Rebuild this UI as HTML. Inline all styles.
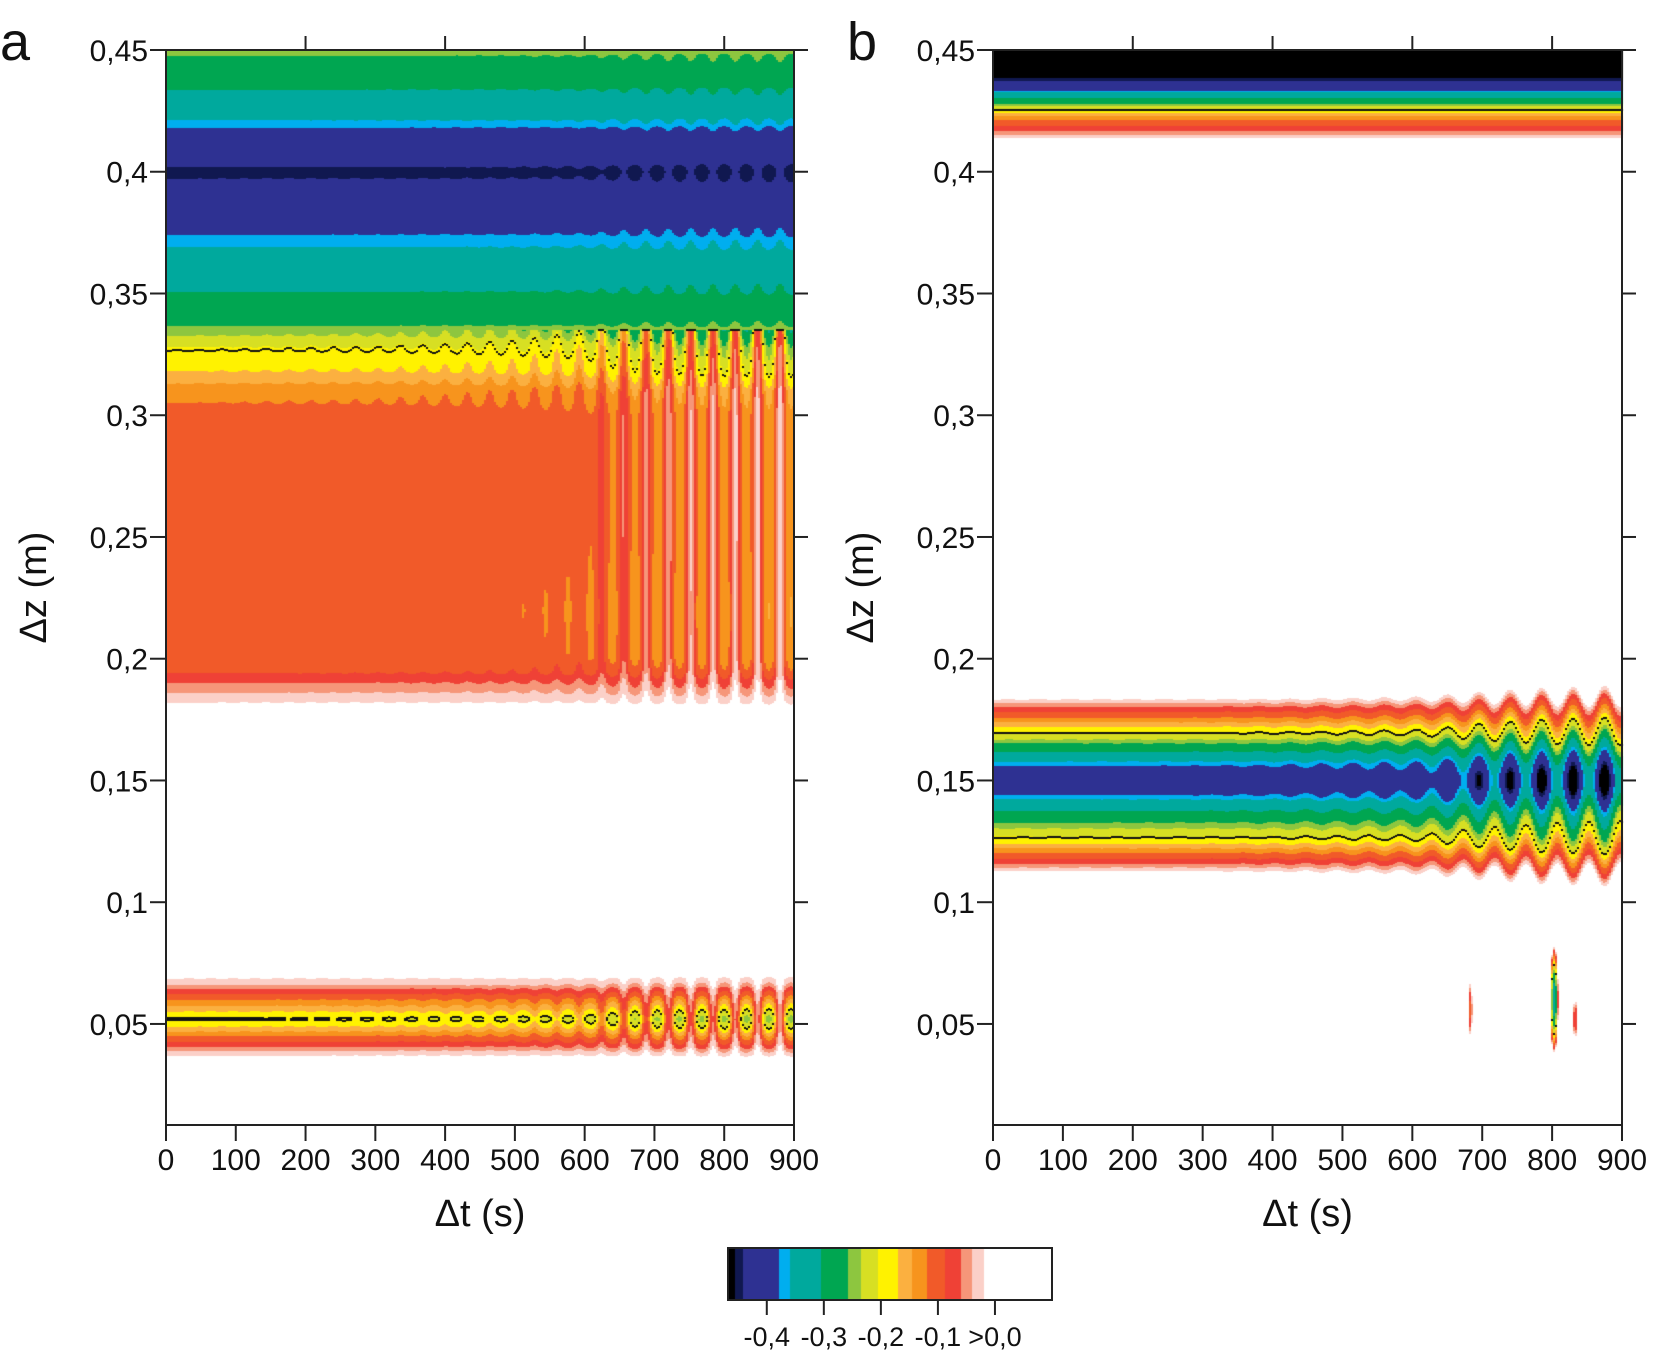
<!DOCTYPE html>
<html><head><meta charset="utf-8"><style>
html,body{margin:0;padding:0;background:#fff;}
#wrap{position:relative;width:1654px;height:1353px;overflow:hidden;}
canvas,svg{position:absolute;left:0;top:0;}
text{font-family:"Liberation Sans",sans-serif;fill:#111;}
</style></head><body>
<div id="wrap">
<canvas id="cv" width="1654" height="1353"></canvas>
<svg id="sv" width="1654" height="1353"></svg>
</div>
<script>
// ---- data ----
const xTicks = [0,100,200,300,400,500,600,700,800,900];
const yTicks = [0.05,0.1,0.15,0.2,0.25,0.3,0.35,0.4,0.45];
const yTickLabels = ["0,05","0,1","0,15","0,2","0,25","0,3","0,35","0,4","0,45"];
const cbTicks = [-0.4,-0.3,-0.2,-0.1,0.0];
const cbTickLabels = ["-0,4","-0,3","-0,2","-0,1",">0,0"];
const colorVals = [-0.455,-0.442,-0.378,-0.36,-0.305,-0.257,-0.235,-0.205,-0.17,-0.145,-0.12,-0.088,-0.06,-0.04,-0.02];
const colorHex = ['#000000','#101850','#2e3192','#00aeef','#00a99d','#00a651','#8dc63f','#d7df23','#fff200','#fbb040','#f7941d','#f15a29','#ef4136','#f69679','#fbd0c8'];
// panel a depth profile at early time
const aZ = [0.45,0.44,0.43,0.42,0.415,0.405,0.40,0.393,0.38,0.372,0.36,0.345,0.335,0.328,0.318,0.31,0.30,0.25,0.22,0.20,0.195,0.19,0.185,0.18,0.07,0.066,0.063,0.06,0.056,0.052,0.048,0.045,0.042,0.039,0.036,0.0];
const aV = [-0.25,-0.28,-0.32,-0.365,-0.40,-0.43,-0.45,-0.43,-0.40,-0.37,-0.33,-0.29,-0.25,-0.205,-0.17,-0.13,-0.11,-0.11,-0.116,-0.113,-0.095,-0.06,-0.035,-0.01,-0.01,-0.04,-0.08,-0.12,-0.16,-0.205,-0.16,-0.12,-0.08,-0.04,-0.01,-0.005];
// panel b depth profile
const bZ = [0.45,0.44,0.437,0.434,0.432,0.429,0.426,0.424,0.422,0.419,0.416,0.413,0.184,0.181,0.178,0.175,0.172,0.169,0.165,0.16,0.157,0.152,0.148,0.143,0.14,0.133,0.127,0.124,0.121,0.118,0.115,0.112,0.0];
const bV = [-0.5,-0.47,-0.44,-0.40,-0.34,-0.28,-0.21,-0.17,-0.13,-0.09,-0.05,-0.01,-0.01,-0.05,-0.09,-0.13,-0.17,-0.205,-0.26,-0.33,-0.37,-0.41,-0.41,-0.37,-0.33,-0.26,-0.205,-0.17,-0.13,-0.09,-0.05,-0.01,-0.01];
// time evolution of oscillation amplitude
const ampT = [0,300,400,500,600,650,700,800,900];
const ampA = [0.0,0.03,0.06,0.1,0.2,0.45,0.6,0.7,0.75];
const ampB = [0.0,0.01,0.03,0.06,0.1,0.18,0.3,0.45,0.5];
const periodA = 32, periodB = 45;
// isolated blobs in panel b: t, z, half-width t, half-height z, peak value
const blobT = [803,683,833];
const blobZ = [0.06,0.056,0.052];
const blobW = [6,3,3];
const blobH = [0.022,0.011,0.008];
const blobV = [-0.33,-0.09,-0.09];

// ---- geometry ----
const Y0 = 50, Y1 = 1125, ZMAX = 0.45, ZMIN = 0.0085;
const panels = [{x0:166,x1:794,name:'a'},{x0:993,x1:1622,name:'b'}];
function yS(z){return Y0+(ZMAX-z)/(ZMAX-ZMIN)*(Y1-Y0);}
function zInv(y){return ZMAX-(y-Y0)/(Y1-Y0)*(ZMAX-ZMIN);}
function xS(p,t){return p.x0+t/900*(p.x1-p.x0);}
function interp(xs,vs,x){
  const asc = xs[0]<xs[xs.length-1];
  for(let i=0;i<xs.length-1;i++){
    const a=xs[i],b=xs[i+1];
    if((asc && x>=a && x<=b)||(!asc && x<=a && x>=b)){return vs[i]+(vs[i+1]-vs[i])*(x-a)/(b-a);}
  }
  return asc?(x<xs[0]?vs[0]:vs[vs.length-1]):(x>xs[0]?vs[0]:vs[vs.length-1]);
}
function color(v){for(let i=0;i<colorVals.length;i++){if(v<colorVals[i])return colorHex[i];}return null;}
function field(pi,t,z){
  if(pi===0){
    const a=interp(ampT,ampA,t);
    const c=Math.cos(2*Math.PI*t/periodA);
    let v=interp(aZ,aV,z);
    const k = z>0.335?0.04:1.0;
    return v*(1+a*k*(c>0?0.35*c:c));
  } else {
    const a=interp(ampT,ampB,t);
    const c=Math.cos(2*Math.PI*(t-20)/periodB);
    let zz=z;
    if(z<0.3){zz=0.15+(z-0.15)/(1+0.25*a*(c+0.3));}
    let v=interp(bZ,bV,zz);
    if(z<0.3) v*= (1+a*0.4*c);
    for(let i=0;i<blobT.length;i++){
      const dt=(t-blobT[i])/blobW[i], dz=(z-blobZ[i])/blobH[i];
      const r=dt*dt+dz*dz; if(r<1) v+=blobV[i]*(1-r);
    }
    return v;
  }
}
const cv=document.getElementById('cv'), ctx=cv.getContext('2d');
panels.forEach((p,pi)=>{
  const step=2;
  for(let x=p.x0;x<p.x1;x+=step){
    const t=(x+1-p.x0)/(p.x1-p.x0)*900;
    let prev=null;
    for(let y=Y0;y<Y1;y++){
      const v=field(pi,t,zInv(y+0.5));
      const col=color(v);
      if(col){ctx.fillStyle=col;ctx.fillRect(x,y,step,1);}
      if(prev!==null && ((prev<-0.2)!==(v<-0.2))){ctx.fillStyle='#111';ctx.fillRect(x,y-1,step,2);}
      prev=v;
    }
  }
});
// colorbar
const CB={x0:728,x1:1052,y0:1248,y1:1300,vmin:-0.468,vmax:0.10};
function cbX(v){return CB.x0+(v-CB.vmin)/(CB.vmax-CB.vmin)*(CB.x1-CB.x0);}
for(let x=CB.x0;x<CB.x1;x++){
  const v=CB.vmin+(x+0.5-CB.x0)/(CB.x1-CB.x0)*(CB.vmax-CB.vmin);
  const col=color(v);
  ctx.fillStyle=col||'#fff';ctx.fillRect(x,CB.y0,1,CB.y1-CB.y0);
}
// ---- axes svg ----
const NS='http://www.w3.org/2000/svg', sv=document.getElementById('sv');
function mk(tag,attrs,parent){const e=document.createElementNS(NS,tag);for(const k in attrs)e.setAttribute(k,attrs[k]);(parent||sv).appendChild(e);return e;}
panels.forEach((p,pi)=>{
  const g=mk('g',{});
  
  
  const frame=mk('rect',{x:p.x0,y:Y0,width:p.x1-p.x0,height:Y1-Y0,fill:'none',stroke:'#222','stroke-width':2},g);
  
  
  xTicks.forEach(t=>{
    const x=xS(p,t);
    const tk=mk('line',{x1:x,x2:x,y1:Y1,y2:Y1+16,stroke:'#222','stroke-width':2},g);
    
    
    if(t%200===0 && t>0 && t<900){
      const tt=mk('line',{x1:x,x2:x,y1:Y0,y2:Y0-14,stroke:'#222','stroke-width':2},g);
      
      
    }
    const lb=mk('text',{x:x,y:1170,'font-size':30,'text-anchor':'middle'},g);
    lb.textContent=t;
    
    
  });
  yTicks.forEach((z,i)=>{
    const y=yS(z);
    const tk=mk('line',{x1:p.x0-16,x2:p.x0,y1:y,y2:y,stroke:'#222','stroke-width':2},g);
    
    
    const rt=mk('line',{x1:p.x1,x2:p.x1+14,y1:y,y2:y,stroke:'#222','stroke-width':2},g);
    
    
    const lb=mk('text',{x:p.x0-18,y:y+11,'font-size':30,'text-anchor':'end'},g);
    lb.textContent=yTickLabels[i];
    
    
  });
  const xt=mk('text',{x:(p.x0+p.x1)/2,y:1226,'font-size':38,'text-anchor':'middle'},g);
  xt.textContent='Δt (s)';
  
  
  const yx=p.x0-120, yy=(Y0+Y1)/2;
  const yt=mk('text',{x:yx,y:yy,'font-size':38,'text-anchor':'middle',transform:`rotate(-90 ${yx} ${yy})`},g);
  yt.textContent='Δz (m)';
  
  
  const pl=mk('text',{x:p.x0-166+(pi?20:0),y:60,'font-size':54},g);
  pl.textContent=p.name;
  
  
});
const cbg=mk('g',{});


mk('rect',{x:CB.x0,y:CB.y0,width:CB.x1-CB.x0,height:CB.y1-CB.y0,fill:'none',stroke:'#222','stroke-width':2},cbg);
cbTicks.forEach((v,i)=>{
  const x=cbX(v);
  const tk=mk('line',{x1:x,x2:x,y1:CB.y1,y2:CB.y1+15,stroke:'#222','stroke-width':2},cbg);
  
  
  const lb=mk('text',{x:x,y:1346,'font-size':27,'text-anchor':'middle'},cbg);
  lb.textContent=cbTickLabels[i];
  
  
});
</script>
</body></html>
